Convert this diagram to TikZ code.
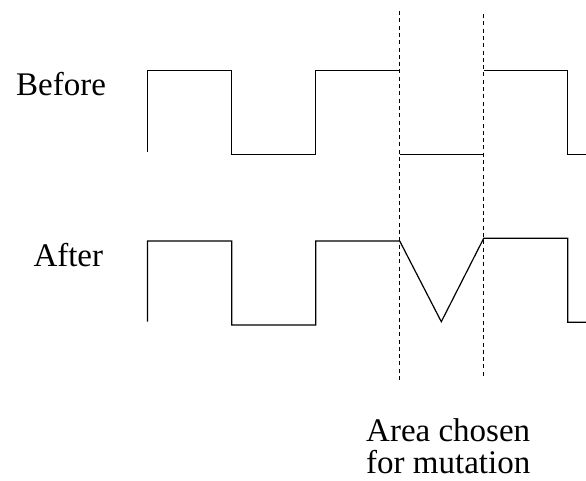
\documentclass[tikz,border=0pt]{standalone}
\usepackage{fontspec}
\setmainfont{Liberation Serif}
\begin{document}
\begin{tikzpicture}[x=1pt,y=-1pt,
  wave/.style={line width=1.2pt,line join=miter},
  cut/.style={line width=0.9pt,dash pattern=on 4pt off 3.3pt},
  lbl/.style={inner sep=0pt,anchor=base west,font=\fontsize{33}{31.5}\selectfont}]
\useasboundingbox (0,0) rectangle (586,480);
% labels
\node[lbl] (before) at (16,95.7) {Before};
\node[lbl] (after) at (33.3,266) {After};
\node[lbl,align=left] (area) at (366,473) {Area chosen\\for mutation};
% dashed cut lines
\coordinate (c1t) at (399.7,11);
\coordinate (c1b) at (399.7,381);
\coordinate (c2t) at (483.7,14);
\coordinate (c2b) at (483.7,376);
\draw[cut] (c1t) -- (c1b);
\draw[cut] (c2t) -- (c2b);
% before waveform
\draw[wave] (147.5,152) -- (147.5,70.5) -- (231.7,70.5) -- (231.7,154.3) -- (315.7,154.3) -- (315.7,70.5) -- (399.7,70.5);
\draw[wave] (399.7,154.3) -- (483.7,154.3);
\draw[wave] (483.7,70.5) -- (567.7,70.5) -- (567.7,154.3) -- (586,154.3);
% after waveform
\draw[wave] (147.5,321.7) -- (147.5,241) -- (231.7,241) -- (231.7,325) -- (315.7,325) -- (315.7,241) -- (399.7,241) -- (441.3,321.7) -- (483.7,238.3) -- (567.7,238.3) -- (567.7,322.3) -- (586,322.3);
\end{tikzpicture}
\end{document}
